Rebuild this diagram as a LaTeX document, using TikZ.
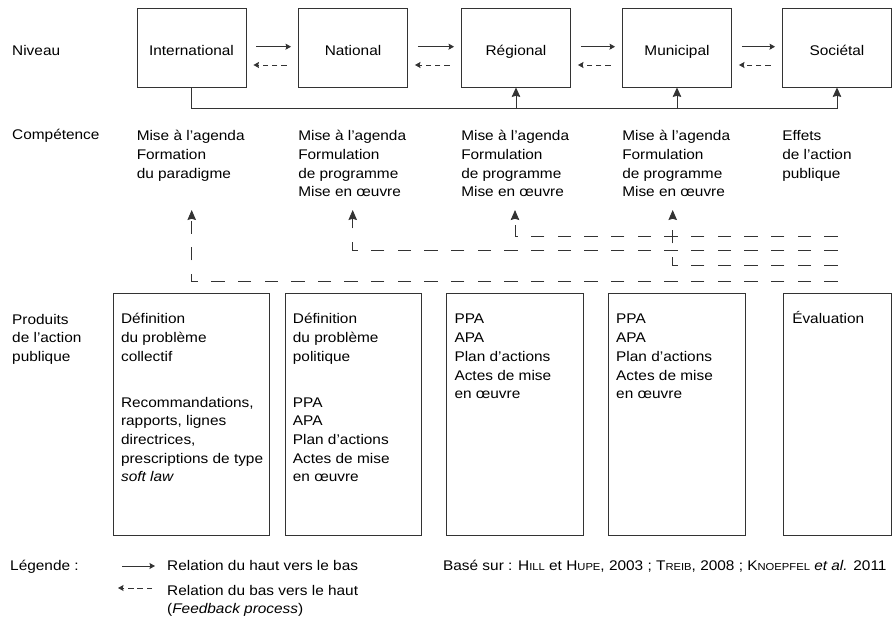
\documentclass[tikz,border=0pt]{standalone}
\usepackage{fontspec}
\setmainfont{Liberation Sans}[FakeStretch=1.1]
\usepackage{tikz}
\usetikzlibrary{arrows.meta,positioning}

\newcommand{\auteur}[2]{#1{\fontsize{10.2}{12}\selectfont\MakeUppercase{#2}}}
\newcommand{\haut}{\rule{0pt}{13.5pt}}

\begin{document}
\begin{tikzpicture}
[
    x = 1pt, y = -1pt,
    font = \fontsize{14}{18.7}\selectfont,
    trait/.style = {draw = black!80, line width = 0.9pt},
    niveau/.style = {trait, minimum width = 109pt, minimum height = 79pt, text height = 17pt, text depth = 0pt, inner sep = 0pt},
    produit/.style = {trait, minimum height = 242pt, inner sep = 0pt},
    bloc/.style = {align = left, inner sep = 0pt, anchor = north west},
    etiquette/.style = {anchor = base west, inner sep = 0pt},
    descend/.style = {trait, -{Stealth[length=5.5pt, width=6pt, inset=0.8pt]}},
    remonte/.style = {trait, dash pattern = on 5.5pt off 3.7pt, -{Stealth[length=5.5pt, width=6pt, inset=0.8pt]}},
    monte/.style = {trait, -{Stealth[length=9.5pt, width=8.5pt, inset=1.2pt]}},
    retour/.style = {trait, dash pattern = on 13.33pt off 13.33pt, -{Stealth[length=10pt, width=8.5pt, inset=1.2pt]}},
]
\useasboundingbox (0,0) rectangle (892,617);

\node[etiquette] (l-niveau) at (12,56) {Niveau};
\node[etiquette] (l-comp) at (12,140) {Compétence};
\node[bloc] (l-prod) at (12,310.5) {\haut Produits\\de l’action\\publique};

\node[niveau] (inter) at (191.5,47.5) {International};
\node[niveau] (nat) at (353,47.5) {National};
\node[niveau] (reg) at (516,47.5) {Régional};
\node[niveau] (mun) at (677,47.5) {Municipal};
\node[niveau] (soc) at (837,47.5) {Sociétal};

\foreach \a/\b in {inter/nat, nat/reg, reg/mun, mun/soc}
{
    \draw[descend] ([xshift=10pt, yshift=0.8pt]\a.east) -- ([xshift=-7pt, yshift=0.8pt]\b.west);
    \draw[remonte] ([xshift=-11.5pt, yshift=-17.5pt]\b.west) -- ([xshift=7pt, yshift=-17.5pt]\a.east);
}

\coordinate (rail) at (837,108);
\draw[monte] (inter.south) |- (rail) -- (soc.south);
\draw[monte] (reg.south |- rail) -- (reg.south);
\draw[monte] (mun.south |- rail) -- (mun.south);

\node[bloc] (c-inter) at ([yshift=-39.5pt]inter.south west) {\haut Mise à l’agenda\\Formation\\du paradigme};
\node[bloc] (c-nat) at ([yshift=-39.5pt]nat.south west) {\haut Mise à l’agenda\\Formulation\\de programme\\Mise en œuvre};
\node[bloc] (c-reg) at ([yshift=-39.5pt]reg.south west) {\haut Mise à l’agenda\\Formulation\\de programme\\Mise en œuvre};
\node[bloc] (c-mun) at ([yshift=-39.5pt]mun.south west) {\haut Mise à l’agenda\\Formulation\\de programme\\Mise en œuvre};
\node[bloc] (c-soc) at ([yshift=-39.5pt]soc.south west) {\haut Effets\\de l’action\\publique};

\coordinate (f-reg) at (837.7,236);
\coordinate (f-nat) at (837.7,250);
\coordinate (f-mun) at (837.7,265);
\coordinate (f-inter) at (837.7,281);
\coordinate (a-inter) at (191.7,210);
\coordinate (a-nat) at (352.7,210);
\coordinate (a-reg) at (515,210);
\coordinate (a-mun) at (672.7,210);
\foreach \n in {inter, nat, reg, mun}
    \draw[retour] (f-\n) -| (a-\n);

\node[produit, minimum width = 156pt] (p-inter) at (191.3,414.5) {};
\node[produit, minimum width = 136.5pt] (p-nat) at (353.4,414.5) {};
\node[produit, minimum width = 136.5pt] (p-reg) at (515,414.5) {};
\node[produit, minimum width = 136.5pt] (p-mun) at (676.7,414.5) {};
\node[produit, minimum width = 108pt] (p-soc) at (837,414.5) {};

\node[bloc] (t-inter) at ([xshift=8pt, yshift=-17.2pt]p-inter.north west)
    {\haut Définition\\du problème\\collectif\\[27pt]Recommandations,\\rapports, lignes\\directrices,\\prescriptions de type\\\textit{soft law}};
\node[bloc] (t-nat) at ([xshift=8pt, yshift=-17.2pt]p-nat.north west)
    {\haut Définition\\du problème\\politique\\[27pt]PPA\\APA\\Plan d’actions\\Actes de mise\\en œuvre};
\node[bloc] (t-reg) at ([xshift=8pt, yshift=-17.2pt]p-reg.north west)
    {\haut PPA\\APA\\Plan d’actions\\Actes de mise\\en œuvre};
\node[bloc] (t-mun) at ([xshift=8pt, yshift=-17.2pt]p-mun.north west)
    {\haut PPA\\APA\\Plan d’actions\\Actes de mise\\en œuvre};
\node[bloc] (t-soc) at ([xshift=9.5pt, yshift=-17.2pt]p-soc.north west) {\haut Évaluation};

\node[etiquette] (l-legende) at (10,570) {Légende :};
\node[etiquette] (leg-haut) at (167,570) {Relation du haut vers le bas};
\node[bloc] (leg-bas) at (167,581.5) {\haut Relation du bas vers le haut\\(\textit{Feedback process})};
\coordinate (lh-a) at (122,566);
\coordinate (lh-b) at (155,566);
\draw[descend] (lh-a) -- (lh-b);
\coordinate (lb-a) at (152,588);
\coordinate (lb-b) at (118,588);
\draw[remonte] (lb-a) -- (lb-b);

\node[anchor = base east, inner sep = 0pt] (source) at (886.7,570)
    {Basé sur : \auteur{H}{ill} et \auteur{H}{upe}, 2003 ; \auteur{T}{reib}, 2008 ; \auteur{K}{noepfel} \textit{et al.} 2011};
\end{tikzpicture}
\end{document}
